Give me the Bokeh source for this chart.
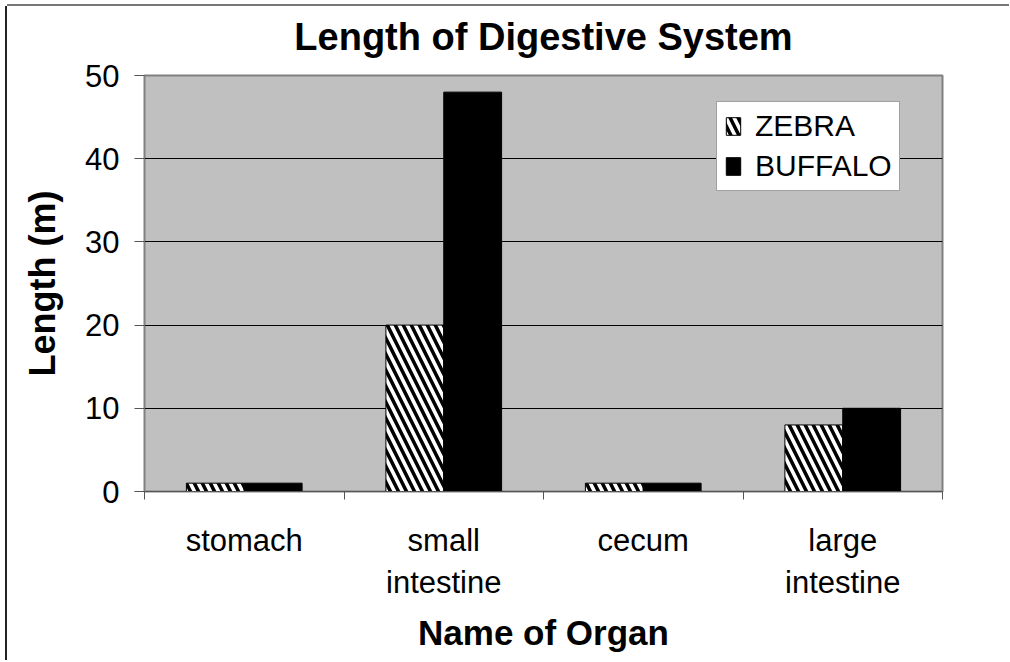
from bokeh.plotting import figure
from bokeh.models import ColumnDataSource, FixedTicker, Range1d, Legend, LegendItem, Title
from bokeh.embed import file_html
from bokeh.resources import INLINE

# ---- data ----
organs = ["stomach", "small\nintestine", "cecum", "large\nintestine"]
zebra = [1, 20, 1, 8]
buffalo = [1, 48, 1, 10]
y_ticks = [0, 10, 20, 30, 40, 50]
series_names = ["ZEBRA", "BUFFALO"]
title_text = "Length of Digestive System"
x_title = "Name of Organ"
y_title = "Length (m)"

FONT = "Liberation Sans"

n = len(organs)
centers = [2 * i + 1 for i in range(n)]
bounds = [2 * i for i in range(n + 1)]
bar_w = 0.58

src = ColumnDataSource(dict(
    zx=[c - bar_w / 2 for c in centers],
    bx=[c + bar_w / 2 for c in centers],
    zebra=zebra,
    buffalo=buffalo,
))

p = figure(width=1002, height=654, output_backend="svg", toolbar_location=None,
           x_range=Range1d(0, 2 * n), y_range=Range1d(y_ticks[0], y_ticks[-1]),
           min_border_left=137, min_border_right=67, min_border_top=69, min_border_bottom=169,
           styles={"box-shadow": "-2px 0 0 0 #222222, 0 -2px 0 0 #777777",
                   "margin-left": "7px", "margin-top": "6px"})

p.background_fill_color = "#C0C0C0"
p.border_fill_color = "white"
p.outline_line_color = "#808080"
p.outline_line_width = 2

p.title.text = title_text
p.title.align = "center"
p.title.text_font = FONT
p.title.text_font_size = "38px"
p.title.text_font_style = "bold"
p.title.text_color = "black"
p.title.standoff = 10

# small empty spacer between the title and the plot frame
spacer = Title(text=" ", text_font_size="1px", standoff=10)
p.add_layout(spacer, "above")

# x axis
p.xaxis.ticker = FixedTicker(ticks=centers, minor_ticks=bounds)
p.xaxis.major_label_overrides = {c: lab for c, lab in zip(centers, organs)}
p.xaxis.major_tick_line_color = None
p.xaxis.major_tick_out = 0
p.xaxis.major_tick_in = 0
p.xaxis.minor_tick_out = 8
p.xaxis.minor_tick_in = 0
p.xaxis.minor_tick_line_color = "#555555"
p.xaxis.axis_line_color = "#555555"
p.xaxis.major_label_text_font = FONT
p.xaxis.major_label_text_font_size = "31px"
p.xaxis.major_label_text_color = "black"
p.xaxis.major_label_standoff = 23
p.xaxis.axis_label = x_title
p.xaxis.axis_label_text_font = FONT
p.xaxis.axis_label_text_font_size = "35px"
p.xaxis.axis_label_text_font_style = "bold"
p.xaxis.axis_label_text_color = "black"
p.xaxis.axis_label_standoff = 10

# y axis
p.yaxis.ticker = FixedTicker(ticks=y_ticks)
p.yaxis.major_tick_out = 10
p.yaxis.major_tick_in = 0
p.yaxis.major_tick_line_color = "#555555"
p.yaxis.minor_tick_line_color = None
p.yaxis.axis_line_color = "#808080"
p.yaxis.major_label_text_font = FONT
p.yaxis.major_label_text_font_size = "31px"
p.yaxis.major_label_text_color = "black"
p.yaxis.major_label_standoff = 15
p.yaxis.axis_label = y_title
p.yaxis.axis_label_text_font = FONT
p.yaxis.axis_label_text_font_size = "36px"
p.yaxis.axis_label_text_font_style = "bold"
p.yaxis.axis_label_text_color = "black"
p.yaxis.axis_label_standoff = 19

p.xgrid.grid_line_color = None
p.ygrid.ticker = FixedTicker(ticks=y_ticks)
p.ygrid.grid_line_color = "black"
p.ygrid.grid_line_width = 1

rz = p.vbar(x="zx", top="zebra", bottom=0, width=bar_w, source=src,
            fill_color="white", line_color="black", line_width=1,
            hatch_pattern="left_diagonal_line", hatch_color="black",
            hatch_scale=16, hatch_weight=3.5)
rb = p.vbar(x="bx", top="buffalo", bottom=0, width=bar_w, source=src,
            fill_color="black", line_color="black", line_width=1)

legend = Legend(items=[LegendItem(label=series_names[0], renderers=[rz]),
                       LegendItem(label=series_names[1], renderers=[rb])],
                location=(572, 300))
legend.label_text_font = FONT
legend.label_text_font_size = "30px"
legend.label_text_color = "black"
legend.glyph_width = 18
legend.glyph_height = 22
legend.label_standoff = 13
legend.padding = 7
legend.spacing = 6
legend.margin = 0
legend.border_line_color = "#444444"
legend.border_line_width = 1.5
legend.background_fill_color = "white"
legend.background_fill_alpha = 1
p.add_layout(legend)

open("out.html", "w").write(file_html(p, INLINE))
